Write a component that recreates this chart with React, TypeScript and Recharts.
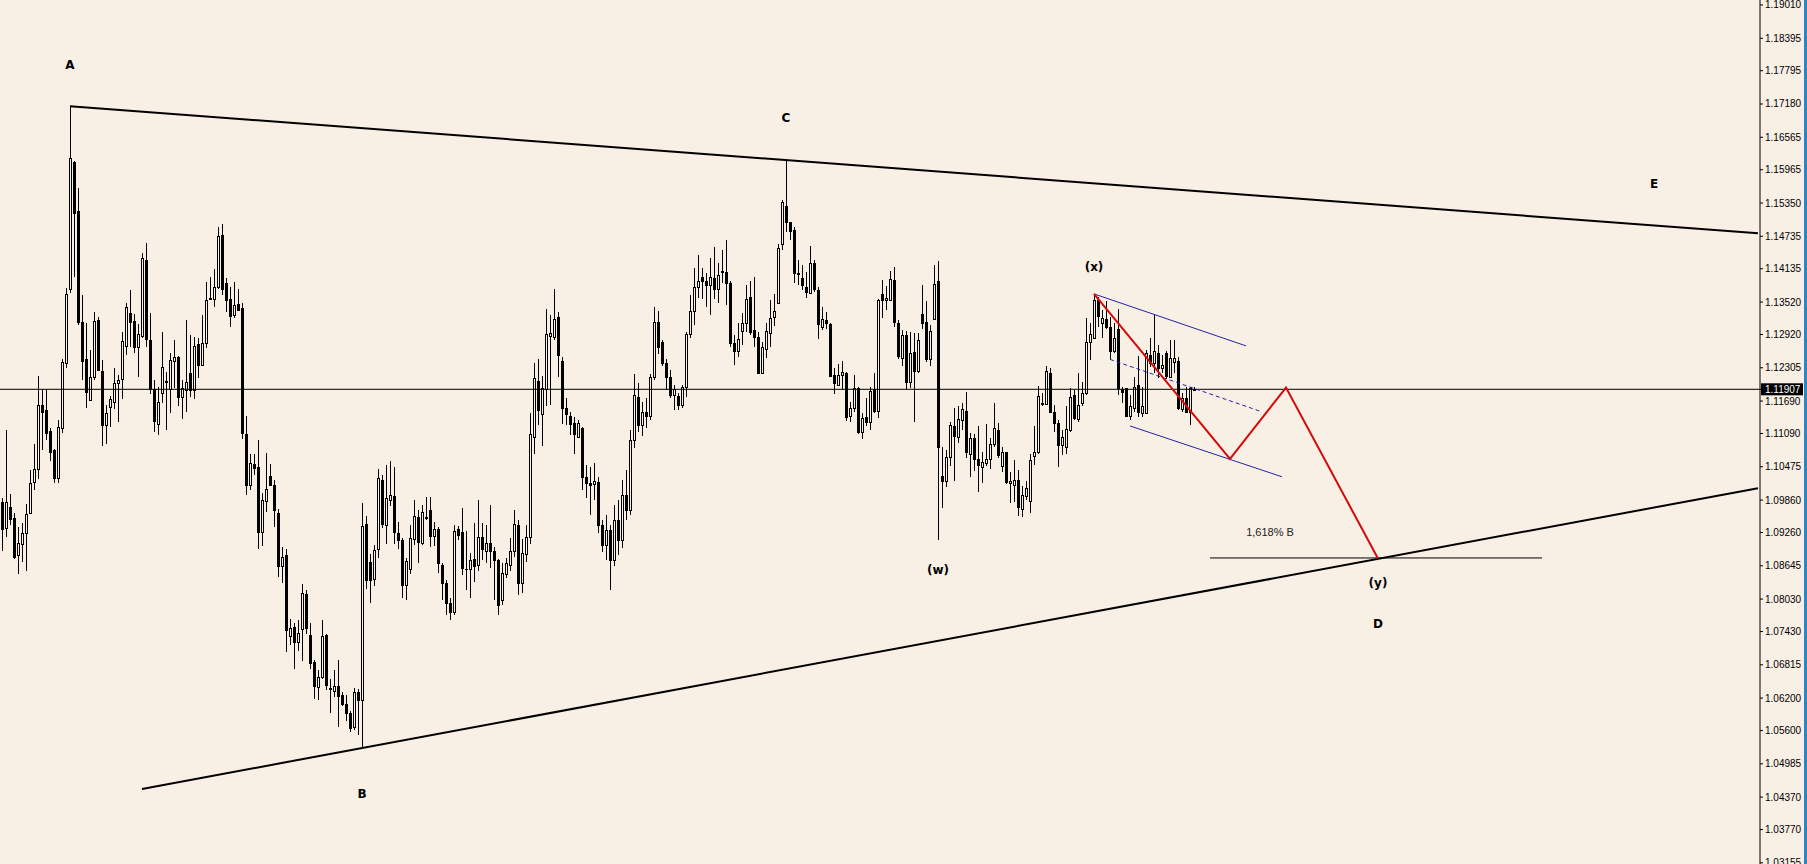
import { ComposedChart, Bar, Line, XAxis, YAxis, ReferenceLine, ReferenceDot } from "recharts"

const BG = "#F8EFE5"
const SLOTS = 440 // bar slots across the plot (4px each)

const Y_MIN = 1.03134
const Y_MAX = 1.19102
const CURRENT_PRICE = 1.11907

const PRICE_TICKS = [
  1.1901, 1.18395, 1.17795, 1.1718, 1.16565, 1.15965, 1.1535, 1.14735, 1.14135, 1.1352, 1.1292, 1.12305,
  1.1169, 1.1109, 1.10475, 1.0986, 1.0926, 1.08645, 1.0803, 1.0743, 1.06815, 1.062, 1.056, 1.04985,
  1.0437, 1.0377, 1.03155,
]

const OPEN = [
  1.0982, 1.0934, 1.0973, 1.0953, 1.0885, 1.0905, 1.0925, 1.0963, 1.1019, 1.1043,
  1.1162, 1.1153, 1.1114, 1.1079, 1.1027, 1.1119, 1.1239, 1.1376, 1.1611, 1.152,
  1.1315, 1.1246, 1.1171, 1.1213, 1.1319, 1.1224, 1.1125, 1.1158, 1.1167, 1.1202,
  1.121, 1.1271, 1.1331, 1.1317, 1.1269, 1.1289, 1.143, 1.1282, 1.1191, 1.1127,
  1.1183, 1.1204, 1.1191, 1.1243, 1.125, 1.1176, 1.1189, 1.122, 1.1189, 1.1275,
  1.1236, 1.1276, 1.1359, 1.1357, 1.1379, 1.1476, 1.1387, 1.1358, 1.1328, 1.1349,
  1.1341, 1.1108, 1.1013, 1.1053, 1.1048, 1.0927, 1.0984, 1.1031, 1.1014, 1.0962,
  1.0864, 1.0884, 1.0734, 1.0751, 1.0723, 1.0747, 1.0812, 1.0736, 1.0686, 1.064,
  1.0659, 1.0736, 1.0638, 1.0634, 1.0643, 1.0625, 1.0609, 1.0593, 1.0566, 1.0632,
  1.0617, 1.0942, 1.0871, 1.084, 1.0896, 1.1023, 1.094, 1.0987, 1.0993, 1.0926,
  1.0912, 1.0829, 1.0858, 1.0914, 1.0955, 1.0906, 1.0953, 1.0968, 1.092, 1.0932,
  1.0866, 1.0833, 1.0796, 1.0779, 1.0932, 1.0927, 1.0859, 1.0858, 1.0878, 1.0866,
  1.0917, 1.0892, 1.0906, 1.0892, 1.0875, 1.0801, 1.085, 1.0866, 1.0891, 1.094,
  1.0832, 1.0886, 1.0918, 1.1102, 1.1206, 1.1145, 1.1191, 1.129, 1.1287, 1.1324,
  1.1243, 1.1156, 1.1141, 1.1128, 1.1103, 1.1119, 1.1029, 1.1018, 1.1015, 1.102,
  1.094, 1.0903, 1.0931, 1.0875, 1.0949, 1.0912, 1.0995, 1.0968, 1.1097, 1.1176,
  1.1125, 1.1149, 1.1141, 1.1213, 1.1316, 1.1279, 1.1239, 1.1214, 1.118, 1.1178,
  1.1162, 1.1195, 1.1293, 1.1336, 1.1379, 1.1398, 1.139, 1.1383, 1.1396, 1.1377,
  1.141, 1.1408, 1.1387, 1.1276, 1.1262, 1.1299, 1.1313, 1.1362, 1.13, 1.1287,
  1.1221, 1.1266, 1.1295, 1.1325, 1.1351, 1.1459, 1.1529, 1.1499, 1.1486, 1.1405,
  1.1396, 1.1379, 1.1369, 1.1425, 1.1374, 1.1305, 1.1319, 1.1312, 1.1217, 1.1198,
  1.1217, 1.1221, 1.1142, 1.1156, 1.1194, 1.1112, 1.1139, 1.1131, 1.1191, 1.1151,
  1.1367, 1.1355, 1.1356, 1.1393, 1.1313, 1.1248, 1.1291, 1.1205, 1.126, 1.1225,
  1.133, 1.1316, 1.1246, 1.132, 1.139, 1.1031, 1.1022, 1.1065, 1.1123, 1.1102,
  1.1134, 1.1151, 1.1072, 1.11, 1.1061, 1.1047, 1.1055, 1.1061, 1.109, 1.1116,
  1.1049, 1.1074, 1.1017, 1.1014, 1.1024, 1.0969, 1.0993, 1.0985, 1.1067, 1.1075,
  1.1166, 1.1164, 1.1221, 1.1149, 1.1128, 1.1088, 1.1084, 1.1116, 1.118, 1.1135,
  1.1166, 1.1183, 1.1279, 1.1285, 1.1355, 1.1314, 1.132, 1.1306, 1.1262, 1.1302,
  1.1191, 1.1193, 1.1141, 1.1156, 1.1198, 1.1147, 1.1147, 1.1254, 1.124, 1.1258,
  1.1231, 1.1258, 1.1214, 1.1242, 1.1243, 1.1154, 1.1174, 1.1149, 1.1189,
]

const HIGH = [
  1.099, 1.1116, 1.0998, 1.0962, 1.0936, 1.0943, 1.0979, 1.1042, 1.109, 1.1215,
  1.1191, 1.1191, 1.1119, 1.1081, 1.1134, 1.1246, 1.1378, 1.1714, 1.1613, 1.1563,
  1.1365, 1.1313, 1.1263, 1.1333, 1.1324, 1.1245, 1.1162, 1.1178, 1.123, 1.1217,
  1.1296, 1.135, 1.1374, 1.133, 1.1312, 1.1442, 1.1461, 1.1331, 1.1208, 1.1195,
  1.1296, 1.1222, 1.1257, 1.1282, 1.1252, 1.1208, 1.1319, 1.1291, 1.1287, 1.1285,
  1.1328, 1.1389, 1.1398, 1.1413, 1.1491, 1.1496, 1.1396, 1.1379, 1.1389, 1.1377,
  1.135, 1.1141, 1.1071, 1.1071, 1.1097, 1.0999, 1.1073, 1.1053, 1.1023, 1.097,
  1.0899, 1.0896, 1.0766, 1.0758, 1.0764, 1.0831, 1.0819, 1.0758, 1.0691, 1.0672,
  1.0764, 1.0738, 1.0656, 1.0672, 1.0691, 1.0631, 1.0625, 1.0596, 1.0638, 1.0637,
  1.0981, 1.0956, 1.0886, 1.0903, 1.1044, 1.1033, 1.1051, 1.1059, 1.1048, 1.0946,
  1.0916, 1.0879, 1.094, 1.0986, 1.0968, 1.0977, 1.0992, 1.0991, 1.0946, 1.0937,
  1.0869, 1.0838, 1.0805, 1.094, 1.0938, 1.0972, 1.0928, 1.0888, 1.0943, 1.0986,
  1.0943, 1.094, 1.0977, 1.09, 1.0878, 1.0869, 1.0879, 1.0915, 1.0968, 1.0949,
  1.0914, 1.094, 1.1146, 1.1239, 1.1246, 1.1215, 1.1339, 1.1328, 1.1377, 1.1334,
  1.125, 1.1174, 1.1149, 1.114, 1.1134, 1.1121, 1.1051, 1.1047, 1.1054, 1.1029,
  1.0949, 1.0958, 1.094, 1.0977, 1.0986, 1.1023, 1.1042, 1.1116, 1.1219, 1.1202,
  1.1167, 1.1175, 1.1219, 1.1343, 1.1335, 1.1281, 1.1246, 1.1226, 1.1198, 1.1183,
  1.1198, 1.1297, 1.1365, 1.1414, 1.1439, 1.1414, 1.1406, 1.1433, 1.1454, 1.1424,
  1.1448, 1.1467, 1.139, 1.1291, 1.1313, 1.1332, 1.1384, 1.139, 1.1399, 1.1297,
  1.1279, 1.1313, 1.1356, 1.1367, 1.1459, 1.1541, 1.1613, 1.15, 1.1491, 1.143,
  1.142, 1.1408, 1.1456, 1.143, 1.1379, 1.1342, 1.1334, 1.1313, 1.1231, 1.1237,
  1.1243, 1.1223, 1.1168, 1.1217, 1.1195, 1.1146, 1.1174, 1.1195, 1.122, 1.1357,
  1.1393, 1.1382, 1.141, 1.1417, 1.1319, 1.13, 1.1299, 1.1297, 1.1295, 1.1295,
  1.1383, 1.1353, 1.131, 1.142, 1.1427, 1.1085, 1.1079, 1.1131, 1.1156, 1.116,
  1.1165, 1.1186, 1.111, 1.1108, 1.1122, 1.1075, 1.1127, 1.11, 1.1165, 1.1128,
  1.1085, 1.1075, 1.1037, 1.106, 1.1042, 1.1012, 1.1022, 1.1072, 1.1122, 1.1197,
  1.1183, 1.1234, 1.123, 1.1162, 1.1134, 1.1116, 1.1159, 1.1193, 1.1189, 1.122,
  1.1205, 1.1322, 1.1313, 1.1367, 1.1362, 1.1337, 1.1353, 1.1325, 1.1313, 1.134,
  1.1195, 1.1194, 1.118, 1.1214, 1.1252, 1.1195, 1.1263, 1.1285, 1.1328, 1.1273,
  1.1254, 1.1262, 1.1282, 1.1282, 1.125, 1.1183, 1.1195, 1.1195, 1.1195,
]

const LOW = [
  1.0892, 1.0918, 1.094, 1.0878, 1.085, 1.0871, 1.0855, 1.0961, 1.1005, 1.1025,
  1.1079, 1.1097, 1.1058, 1.1017, 1.1017, 1.111, 1.123, 1.1368, 1.1398, 1.131,
  1.1208, 1.1156, 1.1169, 1.1208, 1.1224, 1.1086, 1.109, 1.1121, 1.1154, 1.113,
  1.1173, 1.1254, 1.1269, 1.1257, 1.1213, 1.1285, 1.1269, 1.1182, 1.1112, 1.1107,
  1.1165, 1.1116, 1.1147, 1.1193, 1.116, 1.1136, 1.1149, 1.1176, 1.1173, 1.1211,
  1.1234, 1.1267, 1.1356, 1.1343, 1.1376, 1.1365, 1.1334, 1.1306, 1.1322, 1.1335,
  1.1099, 1.0996, 1.1004, 1.1033, 1.0896, 1.0901, 1.0964, 1.1013, 1.0936, 1.0844,
  1.0833, 1.0705, 1.0719, 1.0674, 1.0707, 1.0688, 1.0739, 1.0674, 1.0618, 1.0617,
  1.0656, 1.0635, 1.0593, 1.0622, 1.0567, 1.0606, 1.0577, 1.0558, 1.0561, 1.0551,
  1.0529, 1.0822, 1.0796, 1.0828, 1.0879, 1.0934, 1.0905, 1.0975, 1.0905, 1.0896,
  1.0805, 1.0801, 1.085, 1.0903, 1.087, 1.0903, 1.0949, 1.0899, 1.0901, 1.0852,
  1.0801, 1.0774, 1.0764, 1.0774, 1.0912, 1.0848, 1.082, 1.0805, 1.0835, 1.0854,
  1.0875, 1.0869, 1.086, 1.0801, 1.0774, 1.0792, 1.0842, 1.0854, 1.0881, 1.0811,
  1.0815, 1.0872, 1.0905, 1.1071, 1.1125, 1.1086, 1.116, 1.1162, 1.1282, 1.1214,
  1.1127, 1.1125, 1.1106, 1.1071, 1.11, 1.1005, 1.0989, 1.0958, 1.0987, 1.0925,
  1.089, 1.0875, 1.082, 1.0864, 1.0885, 1.0897, 1.0949, 1.0958, 1.1083, 1.1112,
  1.1105, 1.1119, 1.1134, 1.1208, 1.1256, 1.1234, 1.1189, 1.1174, 1.1153, 1.1153,
  1.1156, 1.1177, 1.1285, 1.131, 1.1359, 1.1357, 1.1343, 1.1328, 1.1357, 1.135,
  1.1387, 1.1346, 1.1269, 1.1236, 1.125, 1.1273, 1.1297, 1.1291, 1.1269, 1.1219,
  1.122, 1.1248, 1.1269, 1.1308, 1.1348, 1.1449, 1.1482, 1.1467, 1.1387, 1.1383,
  1.1374, 1.1359, 1.1368, 1.1371, 1.1283, 1.13, 1.1303, 1.1214, 1.1182, 1.1197,
  1.1189, 1.1133, 1.113, 1.1149, 1.1109, 1.1098, 1.1122, 1.1116, 1.1146, 1.1137,
  1.1322, 1.1337, 1.1353, 1.1305, 1.1246, 1.1233, 1.1189, 1.1193, 1.1131, 1.122,
  1.1302, 1.1242, 1.1234, 1.1319, 1.0912, 1.0971, 1.101, 1.1049, 1.1022, 1.1091,
  1.1116, 1.1063, 1.1029, 1.104, 1.1, 1.1017, 1.1049, 1.1043, 1.1085, 1.1063,
  1.1038, 1.1016, 1.0981, 1.0983, 1.0957, 1.0954, 1.0986, 1.0962, 1.1051, 1.1072,
  1.1159, 1.1162, 1.1146, 1.1112, 1.1047, 1.1069, 1.1072, 1.1112, 1.1134, 1.1131,
  1.1159, 1.118, 1.1245, 1.1283, 1.1306, 1.1285, 1.1303, 1.1245, 1.1257, 1.118,
  1.1165, 1.1139, 1.1134, 1.1149, 1.114, 1.114, 1.1145, 1.1232, 1.122, 1.1211,
  1.1221, 1.1209, 1.1211, 1.122, 1.1153, 1.1149, 1.1147, 1.1125, 1.1188,
]

const CLOSE = [
  1.0932, 1.0982, 1.0951, 1.088, 1.0906, 1.0925, 1.0961, 1.1017, 1.1043, 1.1162,
  1.1149, 1.111, 1.1075, 1.1027, 1.1121, 1.1241, 1.1367, 1.1618, 1.1516, 1.1315,
  1.1243, 1.1185, 1.1213, 1.1317, 1.1226, 1.1125, 1.1146, 1.1173, 1.1202, 1.1208,
  1.128, 1.1343, 1.1315, 1.1269, 1.1293, 1.1433, 1.1283, 1.1191, 1.1132, 1.1167,
  1.1232, 1.1206, 1.1245, 1.125, 1.1176, 1.1193, 1.1204, 1.1189, 1.1271, 1.1236,
  1.1276, 1.1356, 1.1358, 1.1379, 1.1474, 1.1377, 1.1355, 1.1326, 1.1347, 1.1337,
  1.111, 1.1013, 1.1055, 1.1046, 1.0927, 1.0987, 1.1006, 1.1014, 1.0967, 1.0864,
  1.088, 1.0746, 1.075, 1.0723, 1.0741, 1.0814, 1.0749, 1.0685, 1.0642, 1.0659,
  1.0735, 1.0645, 1.0636, 1.0643, 1.0623, 1.0609, 1.0593, 1.0565, 1.0632, 1.0617,
  1.0938, 1.0838, 1.0838, 1.0893, 1.1027, 1.0942, 1.099, 1.0995, 1.0927, 1.0912,
  1.0829, 1.0874, 1.0915, 1.0956, 1.0909, 1.0964, 1.0955, 1.092, 1.0932, 1.0869,
  1.0832, 1.0796, 1.0779, 1.0929, 1.0922, 1.086, 1.0858, 1.0875, 1.0864, 1.0917,
  1.0895, 1.0907, 1.0892, 1.0875, 1.0792, 1.0852, 1.0869, 1.0892, 1.0941, 1.0832,
  1.0889, 1.0917, 1.1108, 1.1211, 1.1153, 1.1193, 1.1292, 1.1295, 1.132, 1.1255,
  1.1156, 1.1145, 1.1127, 1.1108, 1.1129, 1.1029, 1.1017, 1.1014, 1.1021, 1.094,
  1.0903, 1.0931, 1.0875, 1.0949, 1.0912, 1.0995, 1.0968, 1.1097, 1.118, 1.1125,
  1.1149, 1.1141, 1.1213, 1.1316, 1.1269, 1.1239, 1.1214, 1.1181, 1.1191, 1.1162,
  1.1195, 1.1293, 1.1336, 1.1379, 1.139, 1.139, 1.1383, 1.1398, 1.1377, 1.1402,
  1.1408, 1.1387, 1.1276, 1.1262, 1.1283, 1.1314, 1.1357, 1.1297, 1.1287, 1.1221,
  1.1268, 1.1299, 1.1322, 1.1336, 1.1451, 1.1536, 1.15, 1.1484, 1.1405, 1.1404,
  1.1383, 1.1371, 1.1425, 1.1377, 1.1312, 1.132, 1.1313, 1.1215, 1.1202, 1.1217,
  1.1222, 1.114, 1.1156, 1.1193, 1.1112, 1.1137, 1.1131, 1.1188, 1.1151, 1.1356,
  1.1355, 1.1359, 1.1394, 1.1316, 1.1252, 1.1291, 1.1205, 1.1258, 1.1225, 1.1281,
  1.1313, 1.1246, 1.1299, 1.1385, 1.1085, 1.1022, 1.1065, 1.1125, 1.1104, 1.1135,
  1.1154, 1.1075, 1.11, 1.1061, 1.1051, 1.1057, 1.1061, 1.109, 1.1119, 1.1069,
  1.1074, 1.102, 1.1021, 1.1024, 1.0974, 1.0995, 1.1008, 1.106, 1.1075, 1.1178,
  1.1164, 1.1225, 1.1149, 1.1128, 1.1088, 1.1103, 1.1117, 1.1177, 1.1137, 1.1162,
  1.1183, 1.1279, 1.1293, 1.1356, 1.1326, 1.1322, 1.1306, 1.1262, 1.1285, 1.1193,
  1.1186, 1.1141, 1.1159, 1.1195, 1.1149, 1.1159, 1.1258, 1.1239, 1.1261, 1.1231,
  1.1236, 1.1215, 1.1248, 1.1248, 1.1156, 1.1174, 1.1149, 1.1194, 1.11907,
]

// drawn objects: [bar index, price]
const TREND_UPPER = [[17, 1.1714], [439, 1.1479]]
const TREND_LOWER = [[35, 1.0452], [439, 1.1008]]
const ZIGZAG = [[273, 1.1367], [307, 1.1062], [321, 1.1194], [344, 1.0878]]
const CHANNEL_UPPER = [[273, 1.1367], [311, 1.1271]]
const CHANNEL_LOWER = [[282, 1.1123], [320, 1.1029]]
const CHANNEL_MID = [[277, 1.1246], [315, 1.1149]]
const FIB_LEVEL = [[302, 1.0879], [385, 1.0879]]

const LABELS = [
  { text: "A", i: 17, price: 1.179, bold: true },
  { text: "C", i: 196, price: 1.1692, bold: true },
  { text: "E", i: 413, price: 1.1571, bold: true },
  { text: "(x)", i: 273, price: 1.1417, bold: true },
  { text: "(w)", i: 234, price: 1.0857, bold: true },
  { text: "B", i: 90, price: 1.0443, bold: true },
  { text: "(y)", i: 344, price: 1.0832, bold: true },
  { text: "D", i: 344, price: 1.0757, bold: true },
  { text: "1,618% B", i: 317, price: 1.0927, bold: false },
]

const rows: any[] = Array.from({ length: SLOTS }, (_, i) =>
  i < CLOSE.length
    ? { i, o: OPEN[i], h: HIGH[i], l: LOW[i], c: CLOSE[i], hl: [LOW[i], HIGH[i]] }
    : { i, hl: null },
)
const put = (key: string, pts: number[][]) => pts.forEach(([i, v]) => (rows[i][key] = v))
put("tu", TREND_UPPER)
put("tl", TREND_LOWER)
put("zz", ZIGZAG)
put("cu", CHANNEL_UPPER)
put("cl", CHANNEL_LOWER)
put("cm", CHANNEL_MID)
put("fib", FIB_LEVEL)

const Candle = (props: any) => {
  const { x, y, width, height, payload } = props
  if (!payload || payload.o == null) return null
  const top = Math.min(y, y + height)
  const bot = Math.max(y, y + height)
  const span = payload.h - payload.l
  const py = (v: number) => (span > 0 ? top + ((payload.h - v) / span) * (bot - top) : top)
  const cx = Math.floor(x + width / 2)
  const bull = payload.c >= payload.o
  const yo = py(payload.o)
  const yc = py(payload.c)
  const bTop = Math.round(Math.min(yo, yc))
  const bBot = Math.round(Math.max(yo, yc))
  let body
  if (bBot - bTop < 1) {
    body = <line x1={cx - 1} x2={cx + 2} y1={bTop + 0.5} y2={bTop + 0.5} stroke="#000" />
  } else if (bull) {
    body = <rect x={cx - 0.5} y={bTop + 0.5} width={2} height={bBot - bTop} fill={BG} stroke="#000" strokeWidth={1} />
  } else {
    body = <rect x={cx - 1} y={bTop} width={3} height={bBot - bTop + 1} fill="#000" />
  }
  return (
    <g>
      <line x1={cx + 0.5} x2={cx + 0.5} y1={Math.round(top)} y2={Math.round(bot)} stroke="#000" strokeWidth={1} />
      {body}
    </g>
  )
}

const PriceTick = (props: any) => {
  const { x, y, payload } = props
  const v = payload.value
  const label = v.toFixed(5)
  if (v === CURRENT_PRICE) {
    return (
      <g>
        <rect x={x - 4} y={y - 6} width={42} height={12} fill="#000" />
        <text x={x} y={y} dy={3.5} fill="#fff" fontSize={10} fontFamily="'Liberation Sans', Arial, sans-serif">
          {label}
        </text>
      </g>
    )
  }
  return (
    <text x={x} y={y} dy={3.5} fill="#000" fontSize={10} fontFamily="'Liberation Sans', Arial, sans-serif">
      {label}
    </text>
  )
}

const lineProps = { type: "linear" as const, dot: false, activeDot: false, connectNulls: true, isAnimationActive: false }

export default function App() {
  return (
    <div style={{ position: "absolute", left: 0, top: 0, width: 1807, height: 864, background: BG, overflow: "hidden" }}>
      <div style={{ position: "absolute", right: 0, top: 0, width: 3, height: 864, background: "#2f86bd" }} />
      <ComposedChart width={1804} height={864} data={rows} margin={{ top: 0, right: 0, bottom: 0, left: 0 }} barCategoryGap={0}>
        <XAxis dataKey="i" type="category" hide />
        <YAxis
          orientation="right"
          type="number"
          width={44}
          domain={[Y_MIN, Y_MAX]}
          allowDataOverflow
          ticks={[...PRICE_TICKS, CURRENT_PRICE]}
          interval={0}
          tickSize={3}
          tickMargin={2}
          axisLine={{ stroke: "#000" }}
          tickLine={{ stroke: "#000" }}
          tick={(p: any) => <PriceTick {...p} />}
        />
        <ReferenceLine y={CURRENT_PRICE} stroke="#000" strokeWidth={1} />
        <Bar dataKey="hl" barSize={3} shape={(p: any) => <Candle {...p} />} isAnimationActive={false} />
        <Line {...lineProps} dataKey="tu" stroke="#000" strokeWidth={2} />
        <Line {...lineProps} dataKey="tl" stroke="#000" strokeWidth={2} />
        <Line {...lineProps} dataKey="fib" stroke="#000" strokeWidth={1} />
        <Line {...lineProps} dataKey="cu" stroke="#2424a8" strokeWidth={1} />
        <Line {...lineProps} dataKey="cl" stroke="#2424a8" strokeWidth={1} />
        <Line {...lineProps} dataKey="cm" stroke="#2424a8" strokeWidth={1} strokeDasharray="4 3" />
        <Line {...lineProps} dataKey="zz" stroke="#d40a0a" strokeWidth={2} />
        {LABELS.map((l) => (
          <ReferenceDot
            key={l.text + l.i}
            x={l.i}
            y={l.price}
            r={0}
            ifOverflow="visible"
            shape={(p: any) => (
              <text
                x={p.cx}
                y={p.cy}
                textAnchor="middle"
                dominantBaseline="central"
                fill={l.bold ? "#000" : "#222"}
                fontSize={l.bold ? 12 : 11}
                fontWeight={l.bold ? "bold" : "normal"}
                fontFamily={l.bold ? "'DejaVu Sans', sans-serif" : "'Liberation Sans', Arial, sans-serif"}
              >
                {l.text}
              </text>
            )}
          />
        ))}
      </ComposedChart>
    </div>
  )
}
